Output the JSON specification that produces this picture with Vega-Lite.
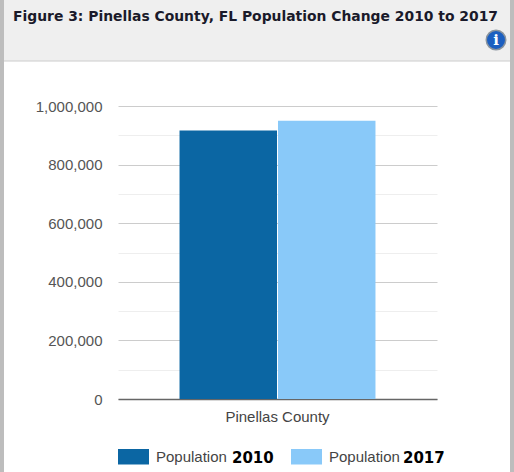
{"$schema":"https://vega.github.io/schema/vega-lite/v6.json","autosize":"none","width":319,"height":293,"padding":{"left":118,"top":106,"right":77,"bottom":73},"background":"#ffffff","view":{"stroke":null},"data":{"values":[{"county":"Pinellas County","series":"Population 2010","population":916542},{"county":"Pinellas County","series":"Population 2017","population":949800}]},"layer":[{"data":{"values":[{"part":"header"}]},"mark":{"type":"rect","fill":"#efefef","stroke":"#cccccc","strokeWidth":1},"encoding":{"x":{"value":-118},"x2":{"value":396},"y":{"value":-107},"y2":{"value":-45}}},{"data":{"values":[{"part":"left"}]},"mark":{"type":"rect","fill":"#bdbdbd"},"encoding":{"x":{"value":-118},"x2":{"value":-114},"y":{"value":-106},"y2":{"value":366}}},{"data":{"values":[{"part":"right"}]},"mark":{"type":"rect","fill":"#bdbdbd"},"encoding":{"x":{"value":392},"x2":{"value":396},"y":{"value":-106},"y2":{"value":366}}},{"data":{"values":[{"part":"title"}]},"mark":{"type":"text","text":"Figure 3: Pinellas County, FL Population Change 2010 to 2017","align":"left","baseline":"alphabetic","font":"DejaVu Sans","fontWeight":"bold","fontSize":13.9,"fill":"#1a1a2a"},"encoding":{"x":{"value":-105},"y":{"value":-85}}},{"data":{"values":[{"part":"icon"}]},"mark":{"type":"point","filled":true,"shape":"circle","size":380,"fill":"#1c5fc0","stroke":"#8a949e","strokeWidth":1.5,"opacity":1},"encoding":{"x":{"value":378},"y":{"value":-66}}},{"data":{"values":[{"part":"icon"}]},"mark":{"type":"text","text":"i","font":"DejaVu Serif","fontWeight":"bold","fontSize":15,"fill":"#ffffff","align":"center","baseline":"middle"},"encoding":{"x":{"value":378},"y":{"value":-66}}},{"mark":{"type":"bar"},"encoding":{"x":{"field":"county","type":"nominal","title":null,"scale":{"paddingInner":0,"paddingOuter":0.314},"axis":{"labelAngle":0,"labelFont":"Liberation Sans","labelFontSize":15,"labelColor":"#444444","tickSize":0,"labelPadding":10,"domainColor":"#666666","domainWidth":1.5}},"xOffset":{"field":"series","type":"nominal","scale":{"paddingInner":0.01}},"y":{"field":"population","type":"quantitative","title":null,"scale":{"domain":[0,1000000],"nice":false},"axis":{"values":[0,100000,200000,300000,400000,500000,600000,700000,800000,900000,1000000],"labelExpr":"datum.value % 200000 == 0 ? format(datum.value, ',') : ''","labelFont":"Liberation Sans","labelFontSize":15,"labelColor":"#555555","labelPadding":16,"tickSize":0,"domain":false,"grid":true,"gridColor":{"condition":{"test":"datum.value % 200000 == 0","value":"#cccccc"},"value":"#eeeeee"},"gridWidth":1}},"color":{"field":"series","type":"nominal","scale":{"domain":["Population 2010","Population 2017"],"range":["#0b66a3","#89c9f9"]},"legend":{"title":null,"orient":"none","legendX":0,"legendY":335,"direction":"horizontal","symbolType":"M-1,-0.5H1V0.5H-1Z","symbolSize":961,"symbolOpacity":1,"symbolStrokeWidth":0,"labelFont":"Liberation Sans","labelFontSize":15,"labelColor":"#444444","labelExpr":"'Population'","columnPadding":64,"labelOffset":7}}}},{"data":{"values":[{"year":"2010"}]},"mark":{"type":"text","text":"2010","font":"DejaVu Sans","fontWeight":"bold","fontSize":15,"fill":"#000000","align":"left","baseline":"alphabetic"},"encoding":{"x":{"value":114},"y":{"value":357}}},{"data":{"values":[{"year":"2017"}]},"mark":{"type":"text","text":"2017","font":"DejaVu Sans","fontWeight":"bold","fontSize":15,"fill":"#000000","align":"left","baseline":"alphabetic"},"encoding":{"x":{"value":285},"y":{"value":357}}}]}
